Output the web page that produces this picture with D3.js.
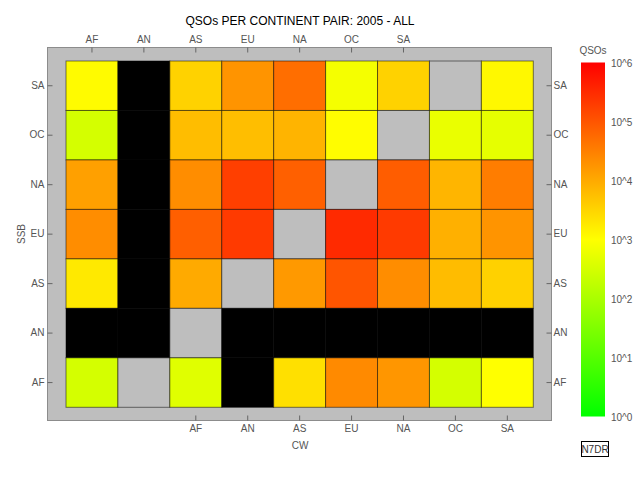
<!DOCTYPE html>
<html>
<head>
<meta charset="utf-8">
<script src="https://cdn.jsdelivr.net/npm/d3@7"></script>
<style>
body { margin: 0; background: #fff; }
text { font-family: "Liberation Sans", Arial, sans-serif; }
</style>
</head>
<body>
<script>
// continent labels
var rowLabels = ["SA", "OC", "NA", "EU", "AS", "AN", "AF"];
var topLabels = ["AF", "AN", "AS", "EU", "NA", "OC", "SA"];
var bottomLabels = ["AF", "AN", "AS", "EU", "NA", "OC", "SA"];
var barTicks = [0, 1, 2, 3, 4, 5, 6];

// QSO counts per cell, 9 columns each; null = same pair (grey), 0 = none (black)
var qsoSA = [1100, 0, 3400, 18000, 51000, 760, 3400, null, 1200];
var qsoOC = [310, 0, 6000, 5800, 7600, 1050, null, 570, 510];
var qsoNA = [13000, 0, 22000, 180000, 74000, null, 80000, 7400, 34000];
var qsoEU = [22000, 0, 77000, 210000, null, 320000, 210000, 8500, 18000];
var qsoAS = [1800, 0, 10000, null, 16000, 100000, 22000, 6200, 3500];
var qsoAN = [0, 0, null, 0, 0, 0, 0, 0, 0];
var qsoAF = [310, null, 430, 0, 2300, 24000, 17000, 310, 1000];

var rows = [qsoSA, qsoOC, qsoNA, qsoEU, qsoAS, qsoAN, qsoAF];

var cells = [];
rows.forEach(function(r, i){
	r.forEach(function(v, j){
		cells.push({row: rowLabels[i], col: j, value: v});
	});
});

var svg = d3.select("body").append("svg")
	.attr("width", 640)
	.attr("height", 480);

var frame = {x0: 47.5, y0: 47.5, x1: 551.5, y1: 420.5};

var x = d3.scaleBand().domain(d3.range(9)).range([66, 533.3]);
var y = d3.scaleBand().domain(rowLabels).range([61, 407.3]);
var bw = x.bandwidth();

var color = d3.scaleLinear().domain([0, 3, 6]).range(["#00ff00", "#ffff00", "#ff0000"]);

svg.append("rect")
	.attr("x", frame.x0)
	.attr("y", frame.y0)
	.attr("width", frame.x1 - frame.x0)
	.attr("height", frame.y1 - frame.y0)
	.attr("fill", "#bebebe")
	.attr("stroke", "#8c8c8c")
	.attr("stroke-width", 1);

svg.selectAll("rect.cell")
	.data(cells)
	.enter()
	.append("rect")
	.attr("class", "cell")
	.attr("x", function(d){return x(d.col);})
	.attr("y", function(d){return y(d.row);})
	.attr("width", bw)
	.attr("height", y.bandwidth())
	.attr("fill", function(d){
		if (d.value === null) return "#bebebe";
		if (d.value === 0) return "#000000";
		return color(Math.log10(d.value));
	})
	.attr("stroke", "rgba(0,0,0,0.5)")
	.attr("stroke-width", 1);

// axes
var xTop = d3.scaleBand().domain(topLabels).range([x(0), x(6) + bw]);
var xBottom = d3.scaleBand().domain(bottomLabels).range([x(2), x(8) + bw]);

function styleAxis(g){
	g.select(".domain").remove();
	g.selectAll(".tick line").attr("stroke", "#666");
	g.selectAll(".tick text")
		.attr("fill", "#555")
		.style("font-size", "10px")
		.style("font-family", "'Liberation Sans', Arial, sans-serif");
}

svg.append("g")
	.attr("transform", "translate(0," + frame.y0 + ")")
	.call(d3.axisTop(xTop).tickSize(-5).tickPadding(5))
	.call(styleAxis);

svg.append("g")
	.attr("transform", "translate(0," + frame.y1 + ")")
	.call(d3.axisBottom(xBottom).tickSize(-5).tickPadding(4))
	.call(styleAxis);

svg.append("g")
	.attr("transform", "translate(" + frame.x0 + ",0)")
	.call(d3.axisLeft(y).tickSize(-5).tickPadding(3))
	.call(styleAxis);

svg.append("g")
	.attr("transform", "translate(" + frame.x1 + ",0)")
	.call(d3.axisRight(y).tickSize(-5).tickPadding(2))
	.call(styleAxis);

// titles
svg.append("text")
	.attr("x", 300)
	.attr("y", 25)
	.attr("text-anchor", "middle")
	.attr("fill", "#000")
	.style("font-size", "12px")
	.text("QSOs PER CONTINENT PAIR: 2005 - ALL");

svg.append("text")
	.attr("x", 300)
	.attr("y", 449)
	.attr("text-anchor", "middle")
	.attr("fill", "#555")
	.style("font-size", "10px")
	.text("CW");

svg.append("text")
	.attr("transform", "translate(25,234) rotate(-90)")
	.attr("text-anchor", "middle")
	.attr("fill", "#555")
	.style("font-size", "10px")
	.text("SSB");

// colour bar
var bar = {x: 581, w: 24, top: 62.5, bottom: 416.5};
var grad = svg.append("defs").append("linearGradient")
	.attr("id", "qsograd")
	.attr("x1", 0).attr("y1", 1)
	.attr("x2", 0).attr("y2", 0);
grad.selectAll("stop")
	.data([0, 3, 6])
	.enter()
	.append("stop")
	.attr("offset", function(d){return (d / 6 * 100) + "%";})
	.attr("stop-color", function(d){return color(d);});

svg.append("rect")
	.attr("x", bar.x)
	.attr("y", bar.top)
	.attr("width", bar.w)
	.attr("height", bar.bottom - bar.top)
	.attr("fill", "url(#qsograd)");

var yBar = d3.scaleLinear().domain([0, 6]).range([bar.bottom, bar.top]);
svg.append("g")
	.attr("transform", "translate(" + (bar.x + bar.w) + ",1)")
	.call(d3.axisRight(yBar).tickValues(barTicks).tickSize(0).tickPadding(6)
		.tickFormat(function(d){return "10^" + d;}))
	.call(styleAxis);

svg.append("text")
	.attr("x", 593)
	.attr("y", 54)
	.attr("text-anchor", "middle")
	.attr("fill", "#555")
	.style("font-size", "10px")
	.text("QSOs");

// signature box
svg.append("rect")
	.attr("x", 581.5)
	.attr("y", 441.5)
	.attr("width", 27)
	.attr("height", 15)
	.attr("fill", "#fff")
	.attr("stroke", "#000");
svg.append("text")
	.attr("x", 595)
	.attr("y", 453)
	.attr("text-anchor", "middle")
	.attr("fill", "#333")
	.style("font-size", "10px")
	.text("N7DR");
</script>
</body>
</html>
